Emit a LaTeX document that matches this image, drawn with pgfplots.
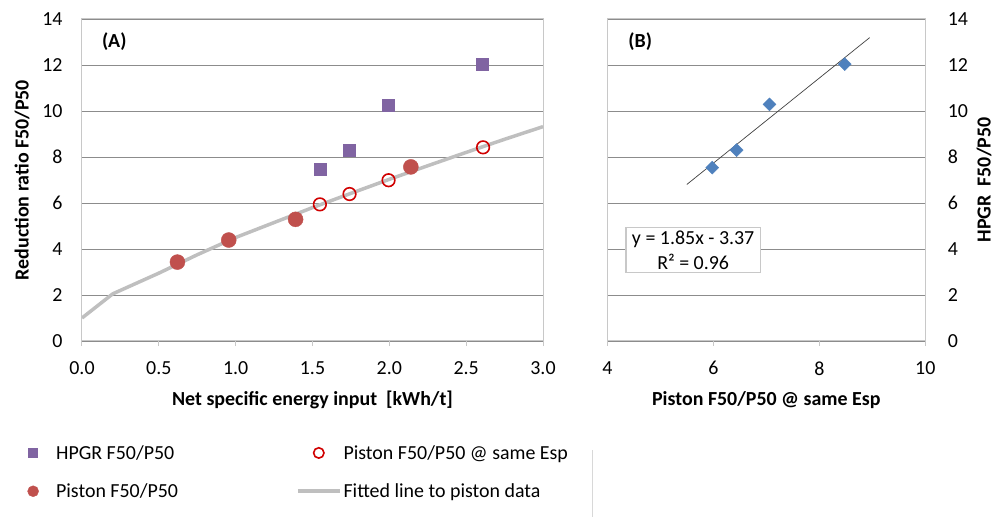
\documentclass[border=0pt]{standalone}
\usepackage{pgfplots}
\pgfplotsset{compat=1.18}
\usepackage{fontspec}
\setmainfont{Carlito}
\definecolor{hpgr}{HTML}{8064A2}
\definecolor{pist}{HTML}{C0504D}
\definecolor{opn}{HTML}{D00000}
\definecolor{fitc}{HTML}{BFBFBF}
\definecolor{dia}{HTML}{4F81BD}
\definecolor{gridc}{HTML}{8C8C8C}
\definecolor{framec}{HTML}{C8C8C8}
\newcommand{\fs}{\fontsize{20}{24}\selectfont}
\pgfplotsset{
  leg42/.style={legend image code/.code={\path[draw=none,fill=none] (0bp,-5bp) rectangle (42bp,5bp);\draw[mark repeat=2,mark phase=2,##1] plot coordinates {(0bp,0bp) (21bp,0bp) (42bp,0bp)};}},
  mystyle/.style={
    scale only axis, height=322bp, anchor=south west,
    ymin=0, ymax=14, ytick={0,2,...,14},
    ymajorgrids, grid style={gridc, line width=0.8bp},
    axis line style={framec, line width=1bp},
    major tick length=5bp, tick align=outside,
    xtick pos=bottom,
    xtick style={framec, line width=1bp}, ytick style={draw=none},
    tick label style={font=\fs},
    xticklabel style={yshift=-12bp},
    label style={font=\bfseries\fs},
    xlabel style={at={(axis description cs:0.5,0)}, anchor=center, yshift=-59bp},
    /pgf/number format/assume math mode=true,
  }
}
\begin{document}
\begin{tikzpicture}
\useasboundingbox (0bp,0bp) rectangle (995bp,517bp);
\begin{axis}[mystyle, at={(82bp,176bp)}, width=461bp,
  xmin=0, xmax=3, xtick={0,0.5,...,3},
  xticklabel style={/pgf/number format/.cd, fixed, fixed zerofill, precision=1},
  ytick pos=left,
  yticklabel style={xshift=-11bp},
  ylabel={Reduction ratio F50/P50},
  ylabel style={at={(axis description cs:-0.130,0.5)}, anchor=center},
  xlabel={Net specific energy input\ \ [kWh/t]},
  legend style={at={(axis description cs:-0.152,-0.317)}, anchor=north west,
    draw=none, fill=none, font=\fs, legend columns=2, transpose legend,
    inner sep=0pt, row sep=19bp, cells={anchor=west},
    /tikz/every even column/.append style={column sep=116bp}},
]
\addplot[fitc, line width=3.5bp, forget plot] coordinates {
  (0,1.0) (0.2,2.05) (0.5,2.95) (0.75,3.75) (1.0,4.5) (1.25,5.15) (1.5,5.8)
  (1.75,6.42) (2.0,7.03) (2.25,7.62) (2.5,8.2) (2.75,8.77) (3.0,9.32)};
\addplot[leg42, only marks, mark=square*, mark size=6bp, color=hpgr,
  legend image post style={mark size=4.5bp}] coordinates {
  (1.548,7.48) (1.739,8.30) (1.995,10.26) (2.605,12.04)};
\addlegendentry{HPGR F50/P50}
\addplot[leg42, only marks, mark=*, mark size=7.5bp, color=pist,
  legend image post style={mark size=5.5bp}] coordinates {
  (0.621,3.43) (0.955,4.39) (1.39,5.29) (2.14,7.57)};
\addlegendentry{Piston F50/P50}
\addplot[leg42, only marks, mark=o, mark size=6.3bp, color=opn, line width=1.6bp,
  legend image post style={mark size=5.2bp}] coordinates {
  (1.548,5.94) (1.741,6.39) (1.995,6.99) (2.61,8.42)};
\addlegendentry{Piston F50/P50 @ same Esp}
\addlegendimage{leg42, fitc, line width=3.5bp}
\addlegendentry{Fitted line to piston data}
\node[anchor=west, font=\bfseries\fs, inner sep=0pt] at (axis description cs:0.043,0.929) {(A)};
\end{axis}
\begin{axis}[mystyle, at={(607.3bp,176bp)}, width=318bp,
  xmin=4, xmax=10, xtick={4,6,8,10},
  ytick pos=right, yticklabel pos=right,
  yticklabel style={xshift=14bp},
  ylabel={HPGR\ \ F50/P50},
  ylabel style={at={(axis description cs:1.185,0.5)}, anchor=center},
  xlabel={Piston F50/P50 @ same Esp},
]
\addplot[black!75, line width=0.7bp] coordinates {(5.5,6.805) (8.95,13.19)};
\addplot[only marks, mark=square*, mark size=4.6bp, mark options={rotate=45}, color=dia] coordinates {
  (5.98,7.54) (6.44,8.30) (7.06,10.29) (8.48,12.04)};
\node[draw=framec, fill=white, line width=1.2bp, align=center, font=\fontsize{20}{25}\selectfont,
  inner xsep=6bp, inner ysep=3bp] at (axis cs:5.62,3.96) {y = 1.85x - 3.37\\R² = 0.96};
\node[anchor=west, font=\bfseries\fs, inner sep=0pt] at (axis description cs:0.066,0.929) {(B)};
\end{axis}
\draw[framec!70, line width=0.8bp] (592bp,0bp) -- (592bp,67bp);
\end{tikzpicture}
\end{document}
